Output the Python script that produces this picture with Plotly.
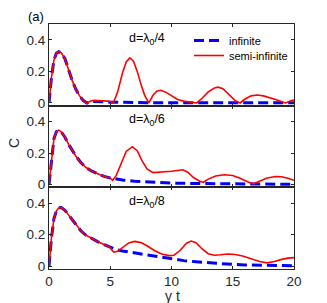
import plotly.graph_objects as go
from plotly.subplots import make_subplots

# ---------------- data ----------------
# panel 1: d = lambda0/4
t1_semi = [0, 0.2, 0.4, 0.6, 0.8, 1.0, 1.3, 1.6, 1.9, 2.2, 2.5, 2.8, 3.1, 3.4, 3.7, 4.0, 4.4, 4.8, 5.1, 5.25,
           5.6, 6.0, 6.3, 6.6, 6.9, 7.2, 7.5, 7.8, 8.15, 8.5, 8.8, 9.1, 9.5, 10.0, 10.5, 11.0, 11.5, 12.05,
           12.5, 13.0, 13.5, 13.8, 14.2, 14.7, 15.2, 15.6, 16.0, 16.5, 17.0, 17.5, 18.0, 18.5, 19.0, 19.3, 19.7, 20]
c1_semi = [0, 0.16, 0.27, 0.315, 0.325, 0.318, 0.28, 0.21, 0.14, 0.085, 0.045, 0.015, 0.0, 0.012, 0.017, 0.016, 0.015, 0.012, 0.006, 0.0,
           0.07, 0.19, 0.26, 0.285, 0.265, 0.2, 0.12, 0.05, 0.0, 0.05, 0.075, 0.08, 0.07, 0.045, 0.022, 0.012, 0.006, 0.0,
           0.03, 0.07, 0.095, 0.1, 0.09, 0.05, 0.015, 0.0, 0.025, 0.045, 0.05, 0.045, 0.035, 0.022, 0.008, 0.0, 0.012, 0.02]
t1_inf = [0, 0.2, 0.4, 0.6, 0.8, 1.0, 1.3, 1.6, 1.9, 2.2, 2.5, 2.8, 3.1, 3.5, 4.0, 4.5, 5.0, 6.0, 8.0, 10.0, 15.0, 20.0]
c1_inf = [0, 0.16, 0.27, 0.315, 0.325, 0.318, 0.28, 0.21, 0.14, 0.085, 0.045, 0.015, 0.0, 0.01, 0.01, 0.008, 0.005, 0.003, 0.002, 0.001, 0.001, 0.001]

# panel 2: d = lambda0/6
t2_semi = [0, 0.2, 0.4, 0.6, 0.8, 1.0, 1.3, 1.6, 1.9, 2.2, 2.6, 3.0, 3.5, 4.0, 4.5, 5.0, 5.2,
           5.5, 5.9, 6.3, 6.8, 7.2, 7.6, 8.0, 8.5, 9.0, 9.5, 10.0, 10.5, 10.9, 11.3, 11.8, 12.3, 12.6,
           13.0, 13.6, 14.3, 15.0, 15.6, 16.2, 16.7, 17.2, 17.8, 18.5, 19.0, 19.5, 20]
c2_semi = [0, 0.17, 0.29, 0.335, 0.345, 0.335, 0.3, 0.255, 0.215, 0.18, 0.14, 0.11, 0.085, 0.066, 0.052, 0.042, 0.028,
           0.06, 0.14, 0.21, 0.24, 0.215, 0.15, 0.1, 0.076, 0.078, 0.083, 0.085, 0.09, 0.094, 0.08, 0.045, 0.022, 0.015,
           0.035, 0.055, 0.063, 0.058, 0.04, 0.018, 0.005, 0.02, 0.042, 0.052, 0.05, 0.04, 0.028]
t2_inf = [0, 0.2, 0.4, 0.6, 0.8, 1.0, 1.3, 1.6, 1.9, 2.2, 2.6, 3.0, 3.5, 4.0, 4.5, 5.0,
          5.5, 6.0, 7.0, 8.0, 9.0, 10.0, 12.0, 14.0, 16.0, 18.0, 20.0]
c2_inf = [0, 0.17, 0.29, 0.335, 0.345, 0.335, 0.3, 0.255, 0.215, 0.18, 0.14, 0.11, 0.085, 0.066, 0.052, 0.042,
          0.035, 0.03, 0.022, 0.017, 0.013, 0.01, 0.007, 0.005, 0.004, 0.003, 0.002]

# panel 3: d = lambda0/8
t3_semi = [0, 0.2, 0.4, 0.6, 0.8, 1.0, 1.3, 1.6, 1.9, 2.2, 2.6, 3.0, 3.5, 4.0, 4.5, 5.0, 5.1, 5.3,
           5.6, 6.0, 6.5, 7.0, 7.5, 8.0, 8.6, 9.2, 9.8, 10.2, 10.7, 11.2, 11.6, 12.0, 12.5, 13.0, 13.5,
           14.0, 14.6, 15.2, 15.8, 16.5, 17.2, 17.8, 18.4, 19.0, 19.5, 20]
c3_semi = [0, 0.18, 0.3, 0.35, 0.37, 0.372, 0.355, 0.325, 0.295, 0.26, 0.225, 0.198, 0.175, 0.155, 0.138, 0.12, 0.105, 0.09,
           0.095, 0.12, 0.148, 0.158, 0.15, 0.13, 0.1, 0.078, 0.068, 0.07, 0.1, 0.145, 0.16, 0.15, 0.11, 0.08, 0.07,
           0.073, 0.078, 0.075, 0.065, 0.048, 0.03, 0.022, 0.03, 0.044, 0.052, 0.055]
t3_inf = [0, 0.2, 0.4, 0.6, 0.8, 1.0, 1.3, 1.6, 1.9, 2.2, 2.6, 3.0, 3.5, 4.0, 4.5, 5.0,
          5.5, 6.0, 7.0, 8.0, 9.0, 10.0, 11.0, 12.0, 13.0, 14.0, 15.0, 16.0, 17.0, 18.0, 19.0, 20.0]
c3_inf = [0, 0.18, 0.3, 0.35, 0.37, 0.372, 0.355, 0.325, 0.295, 0.26, 0.225, 0.198, 0.175, 0.155, 0.138, 0.12,
          0.105, 0.097, 0.085, 0.073, 0.06, 0.045, 0.036, 0.029, 0.022, 0.017, 0.012, 0.009, 0.007, 0.005, 0.004, 0.003]

panel_labels = ["d=λ<sub>0</sub>/4", "d=λ<sub>0</sub>/6", "d=λ<sub>0</sub>/8"]
x_ticks = [0, 5, 10, 15, 20]
y_ticks = [0, 0.2, 0.4]
y_ticklabels = ["0", "0.2", "0.4"]
series_names = ["infinite", "semi-infinite"]

# ---------------- figure ----------------
W, H = 327, 303
L, R, T, B = 49, 294, 24, 269
FONT = "Liberation Sans, Arial, sans-serif"
AX = "#262626"

fig = make_subplots(rows=3, cols=1, shared_xaxes=True, vertical_spacing=0)

panels = [(t1_inf, c1_inf, t1_semi, c1_semi),
          (t2_inf, c2_inf, t2_semi, c2_semi),
          (t3_inf, c3_inf, t3_semi, c3_semi)]

for i, (ti, ci, ts, cs) in enumerate(panels):
    r = i + 1
    fig.add_trace(go.Scatter(x=ti, y=ci, mode="lines", name=series_names[0],
                             line=dict(color="#0000ff", width=3, dash="10px,5px"),
                             legend="legend", showlegend=(i == 0)), row=r, col=1)
    fig.add_trace(go.Scatter(x=ts, y=cs, mode="lines", name=series_names[1],
                             line=dict(color="#ff0000", width=1.6),
                             legend="legend2", showlegend=(i == 0)), row=r, col=1)

for r in range(1, 4):
    fig.update_xaxes(range=[0, 20], tickvals=x_ticks, ticks="inside", ticklen=3,
                     showline=True, linecolor=AX, linewidth=1, mirror="ticks",
                     tickcolor=AX, showgrid=False, zeroline=False,
                     showticklabels=(r == 3),
                     tickfont=dict(family=FONT, size=13.5, color=AX), row=r, col=1)
    fig.update_yaxes(range=[-0.017, 0.5], tickvals=y_ticks, ticktext=y_ticklabels,
                     ticks="inside", ticklen=3,
                     showline=True, linecolor=AX, linewidth=1, mirror="ticks",
                     tickcolor=AX, showgrid=False, zeroline=False,
                     tickfont=dict(family=FONT, size=13.5, color=AX), row=r, col=1)


def px(x):
    return (x - L) / (R - L)


def py(y):
    return (B - y) / (B - T)


annotations = []
for i, txt in enumerate(panel_labels):
    ytop = [24, 105, 187][i]
    annotations.append(dict(text=txt, x=px(147), y=py(ytop + 15), xref="paper", yref="paper",
                            showarrow=False, xanchor="center", yanchor="middle",
                            font=dict(family=FONT, size=12.5, color="#000000")))
annotations.append(dict(text="(a)", x=px(36), y=py(16), xref="paper", yref="paper",
                        showarrow=False, xanchor="center", yanchor="middle",
                        font=dict(family=FONT, size=13, color="#000000")))
annotations.append(dict(text="C", x=px(14), y=py(143), xref="paper", yref="paper",
                        showarrow=False, xanchor="center", yanchor="middle", textangle=-90,
                        font=dict(family=FONT, size=14, color=AX)))
annotations.append(dict(text="γ t", x=px(172), y=py(296), xref="paper", yref="paper",
                        showarrow=False, xanchor="center", yanchor="middle",
                        font=dict(family=FONT, size=14, color=AX)))

leg_common = dict(xanchor="left", yanchor="top", bgcolor="rgba(0,0,0,0)", borderwidth=0,
                  font=dict(family=FONT, size=11, color="#000000"), itemwidth=30)

fig.update_layout(
    width=W, height=H,
    margin=dict(l=L, r=W - R, t=T, b=H - B, pad=0, autoexpand=False),
    plot_bgcolor="white", paper_bgcolor="white",
    font=dict(family=FONT, color=AX),
    annotations=annotations,
    legend=dict(x=px(189), y=py(26), **leg_common),
    legend2=dict(x=px(189), y=py(41), **leg_common),
)

fig.write_html("out.html", config={"displayModeBar": False},
               post_script="document.body.style.margin='0px';document.body.style.overflow='hidden';")
